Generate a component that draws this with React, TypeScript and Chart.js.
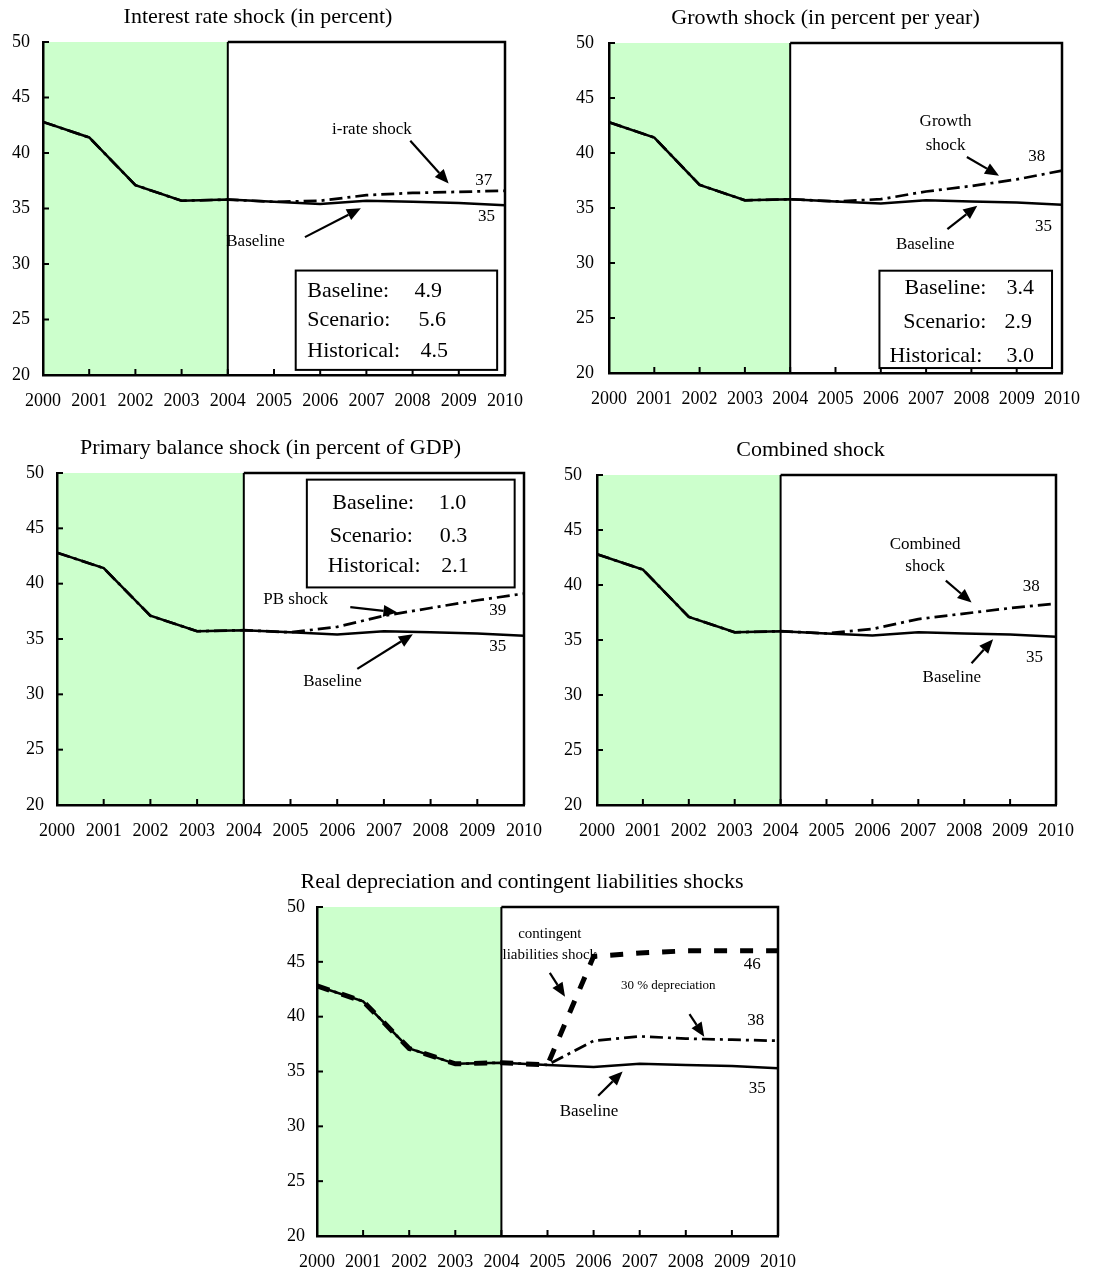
import { useEffect, useRef } from "react";

import { Chart, registerables } from "chart.js";

Chart.register(...registerables);

const FONT = "'Liberation Serif', 'Times New Roman', serif";
const SHADE = "#ccffcc";

const YEARS = ["2000", "2001", "2002", "2003", "2004", "2005", "2006", "2007", "2008", "2009", "2010"];
const HISTORY_END = "2004";
const Y_MIN = 20;
const Y_MAX = 50;
const Y_STEP = 5;

const BASELINE = [42.8, 41.4, 37.1, 35.7, 35.8, 35.6, 35.4, 35.7, 35.6, 35.5, 35.3];
const IRATE_SHOCK = [42.8, 41.4, 37.1, 35.7, 35.8, 35.6, 35.7, 36.2, 36.4, 36.5, 36.6];
const GROWTH_SHOCK = [42.8, 41.4, 37.1, 35.7, 35.8, 35.6, 35.8, 36.5, 37.0, 37.6, 38.4];
const PB_SHOCK = [42.8, 41.4, 37.1, 35.7, 35.8, 35.6, 36.1, 37.1, 37.8, 38.5, 39.1];
const COMBINED_SHOCK = [42.8, 41.4, 37.1, 35.7, 35.8, 35.6, 36.0, 36.9, 37.4, 37.9, 38.3];
const CONTINGENT_SHOCK = [42.8, 41.4, 37.1, 35.7, 35.8, 35.6, 45.5, 45.8, 46.0, 46.0, 46.0];
const DEPRECIATION_SHOCK = [42.8, 41.4, 37.1, 35.7, 35.8, 35.6, 37.8, 38.2, 38.0, 37.9, 37.8];

const STAT_LABELS = ["Baseline:", "Scenario:", "Historical:"];
const IRATE_STATS = ["4.9", "5.6", "4.5"];
const GROWTH_STATS = ["3.4", "2.9", "3.0"];
const PB_STATS = ["1.0", "0.3", "2.1"];

// [year index, value] positions for the hand-placed labels
type Pt = [number, number];

interface Note {
  text: string;
  at: Pt;
  size?: number;
}

interface Arrow {
  from: Pt;
  to: Pt;
}

interface StatsBox {
  values: string[];
  box: [Pt, Pt];
  rowsY: number[];
  labelX: number[];
  valueX: number[];
  align: CanvasTextAlign;
}

interface Series {
  data: number[];
  style: "solid" | "dashdot" | "heavy";
}

interface PanelSpec {
  title: string;
  series: Series[];
  notes: Note[];
  arrows: Arrow[];
  stats?: StatsBox;
  left: number;
  top: number;
  width: number;
  height: number;
  yAxisWidth: number;
  xAxisHeight: number;
  padRight: number;
  yPad: number;
}

const PANELS: PanelSpec[] = [
  {
    title: "Interest rate shock (in percent)",
    series: [
      { data: IRATE_SHOCK, style: "dashdot" },
      { data: BASELINE, style: "solid" }
    ],
    notes: [
      { text: "i-rate shock", at: [7.12, 42.07] },
      { text: "Baseline", at: [4.6, 32.0] },
      { text: "37", at: [9.54, 37.5] },
      { text: "35", at: [9.6, 34.32] }
    ],
    arrows: [
      { from: [7.95, 41.1], to: [8.78, 37.25] },
      { from: [5.67, 32.42], to: [6.88, 35.02] }
    ],
    stats: {
      values: IRATE_STATS,
      box: [[5.47, 29.41], [9.83, 20.46]],
      rowsY: [27.54, 24.98, 22.11],
      labelX: [5.72, 5.72, 5.72],
      valueX: [8.04, 8.13, 8.17],
      align: "left"
    },
    left: 3,
    top: 0,
    width: 535,
    height: 420,
    yAxisWidth: 40,
    xAxisHeight: 45,
    padRight: 25,
    yPad: 13
  },
  {
    title: "Growth shock (in percent per year)",
    series: [
      { data: GROWTH_SHOCK, style: "dashdot" },
      { data: BASELINE, style: "solid" }
    ],
    notes: [
      { text: "Growth", at: [7.43, 42.88] },
      { text: "shock", at: [7.43, 40.7] },
      { text: "38", at: [9.44, 39.7] },
      { text: "35", at: [9.59, 33.33] },
      { text: "Baseline", at: [6.98, 31.67] }
    ],
    arrows: [
      { from: [7.9, 39.64], to: [8.61, 37.94] },
      { from: [7.47, 33.09], to: [8.13, 35.21] }
    ],
    stats: {
      values: GROWTH_STATS,
      box: [[5.97, 29.3], [9.78, 20.45]],
      rowsY: [27.67, 24.64, 21.52],
      labelX: [8.33, 8.33, 8.24],
      valueX: [9.38, 9.34, 9.38],
      align: "right"
    },
    left: 575,
    top: 1,
    width: 520,
    height: 417,
    yAxisWidth: 34,
    xAxisHeight: 45,
    padRight: 19,
    yPad: 15
  },
  {
    title: "Primary balance shock (in percent of GDP)",
    series: [
      { data: PB_SHOCK, style: "dashdot" },
      { data: BASELINE, style: "solid" }
    ],
    notes: [
      { text: "PB shock", at: [5.11, 38.6] },
      { text: "39", at: [9.44, 37.55] },
      { text: "35", at: [9.44, 34.32] },
      { text: "Baseline", at: [5.9, 31.16] }
    ],
    arrows: [
      { from: [6.28, 37.88], to: [7.29, 37.4] },
      { from: [6.43, 32.3], to: [7.62, 35.44] }
    ],
    stats: {
      values: PB_STATS,
      box: [[5.35, 49.4], [9.8, 39.66]],
      rowsY: [47.23, 44.33, 41.56],
      labelX: [6.77, 6.73, 6.79],
      valueX: [8.47, 8.49, 8.52],
      align: "center"
    },
    left: 17,
    top: 431,
    width: 566,
    height: 419,
    yAxisWidth: 40,
    xAxisHeight: 45,
    padRight: 59,
    yPad: 13
  },
  {
    title: "Combined shock",
    series: [
      { data: COMBINED_SHOCK, style: "dashdot" },
      { data: BASELINE, style: "solid" }
    ],
    notes: [
      { text: "Combined", at: [7.15, 43.7] },
      { text: "shock", at: [7.15, 41.67] },
      { text: "38", at: [9.46, 39.9] },
      { text: "35", at: [9.53, 33.39] },
      { text: "Baseline", at: [7.73, 31.6] }
    ],
    arrows: [
      { from: [7.6, 40.4], to: [8.16, 38.4] },
      { from: [8.16, 32.88], to: [8.63, 35.06] }
    ],
    left: 557,
    top: 433,
    width: 532,
    height: 417,
    yAxisWidth: 40,
    xAxisHeight: 45,
    padRight: 25,
    yPad: 15
  },
  {
    title: "Real depreciation and contingent liabilities shocks",
    series: [
      { data: CONTINGENT_SHOCK, style: "heavy" },
      { data: DEPRECIATION_SHOCK, style: "dashdot" },
      { data: BASELINE, style: "solid" }
    ],
    notes: [
      { text: "contingent", at: [5.05, 47.5], size: 15 },
      { text: "liabilities shock", at: [5.05, 45.6], size: 15 },
      { text: "46", at: [9.44, 44.79] },
      { text: "30 % depreciation", at: [7.62, 42.88], size: 13 },
      { text: "38", at: [9.52, 39.64] },
      { text: "35", at: [9.55, 33.48] },
      { text: "Baseline", at: [5.9, 31.36] }
    ],
    arrows: [
      { from: [5.05, 44.0], to: [5.38, 41.82] },
      { from: [8.08, 40.24], to: [8.4, 38.18] },
      { from: [6.1, 32.79], to: [6.63, 35.0] }
    ],
    left: 257,
    top: 865,
    width: 554,
    height: 405,
    yAxisWidth: 60,
    xAxisHeight: 34,
    padRight: 24,
    yPad: 12
  }
];

const LINE_STYLES = {
  solid: { borderWidth: 2.5, borderDash: [] as number[] },
  dashdot: { borderWidth: 2.7, borderDash: [13, 5, 3, 5] },
  heavy: { borderWidth: 5, borderDash: [13, 13] }
};

function drawArrow(ctx: CanvasRenderingContext2D, x1: number, y1: number, x2: number, y2: number) {
  const ang = Math.atan2(y2 - y1, x2 - x1);
  const head = 14;
  const half = 6;
  const bx = x2 - head * Math.cos(ang);
  const by = y2 - head * Math.sin(ang);
  ctx.beginPath();
  ctx.moveTo(x1, y1);
  ctx.lineTo(bx, by);
  ctx.lineWidth = 2.2;
  ctx.stroke();
  ctx.beginPath();
  ctx.moveTo(x2, y2);
  ctx.lineTo(bx + half * Math.sin(ang), by - half * Math.cos(ang));
  ctx.lineTo(bx - half * Math.sin(ang), by + half * Math.cos(ang));
  ctx.closePath();
  ctx.fill();
}

function overlayPlugin(spec: PanelSpec) {
  return {
    id: "shockOverlay",
    beforeDraw(chart: Chart) {
      const { ctx, chartArea, scales } = chart;
      const xEnd = scales.x.getPixelForValue(YEARS.indexOf(HISTORY_END));
      ctx.save();
      ctx.fillStyle = SHADE;
      ctx.fillRect(chartArea.left, chartArea.top, xEnd - chartArea.left, chartArea.bottom - chartArea.top);
      ctx.restore();
    },
    afterDraw(chart: Chart) {
      const { ctx, chartArea, scales } = chart;
      const x = scales.x;
      const y = scales.y;
      const px = (p: Pt) => [x.getPixelForValue(p[0]), y.getPixelForValue(p[1])];
      const xEnd = x.getPixelForValue(YEARS.indexOf(HISTORY_END));

      ctx.save();
      ctx.strokeStyle = "#000";
      ctx.fillStyle = "#000";

      // box around the projection years
      ctx.lineWidth = 2.5;
      ctx.beginPath();
      ctx.moveTo(xEnd, chartArea.top);
      ctx.lineTo(chartArea.right, chartArea.top);
      ctx.lineTo(chartArea.right, chartArea.bottom);
      ctx.stroke();
      ctx.lineWidth = 2;
      ctx.beginPath();
      ctx.moveTo(xEnd, chartArea.top);
      ctx.lineTo(xEnd, chartArea.bottom);
      ctx.stroke();

      // inward tick marks
      ctx.lineWidth = 2;
      y.ticks.forEach((_, i) => {
        const ty = y.getPixelForTick(i);
        ctx.beginPath();
        ctx.moveTo(chartArea.left, ty);
        ctx.lineTo(chartArea.left + 6, ty);
        ctx.stroke();
      });
      x.ticks.forEach((_, i) => {
        const tx = x.getPixelForTick(i);
        ctx.beginPath();
        ctx.moveTo(tx, chartArea.bottom);
        ctx.lineTo(tx, chartArea.bottom - 6);
        ctx.stroke();
      });

      ctx.textAlign = "center";
      ctx.textBaseline = "middle";
      spec.notes.forEach((n) => {
        const [nx, ny] = px(n.at);
        ctx.font = `${n.size ?? 17}px ${FONT}`;
        ctx.fillText(n.text, nx, ny);
      });

      spec.arrows.forEach((a) => {
        const [x1, y1] = px(a.from);
        const [x2, y2] = px(a.to);
        drawArrow(ctx, x1, y1, x2, y2);
      });

      const s = spec.stats;
      if (s) {
        const [bx0, by0] = px(s.box[0]);
        const [bx1, by1] = px(s.box[1]);
        ctx.fillStyle = "#fff";
        ctx.fillRect(bx0, by0, bx1 - bx0, by1 - by0);
        ctx.fillStyle = "#000";
        ctx.lineWidth = 2;
        ctx.strokeRect(bx0, by0, bx1 - bx0, by1 - by0);
        ctx.font = `22px ${FONT}`;
        ctx.textAlign = s.align;
        STAT_LABELS.forEach((label, i) => {
          const ry = y.getPixelForValue(s.rowsY[i]);
          ctx.fillText(label, x.getPixelForValue(s.labelX[i]), ry);
          ctx.fillText(s.values[i], x.getPixelForValue(s.valueX[i]), ry);
        });
      }
      ctx.restore();
    }
  };
}

function ShockPanel({ spec }: { spec: PanelSpec }) {
  const canvasRef = useRef<HTMLCanvasElement>(null);

  useEffect(() => {
    if (!canvasRef.current) return;
    const chart = new Chart(canvasRef.current, {
      type: "line",
      data: {
        labels: YEARS,
        datasets: spec.series.map((s) => ({
          data: s.data,
          borderColor: "#000",
          backgroundColor: "#000",
          fill: false,
          pointRadius: 0,
          tension: 0,
          ...LINE_STYLES[s.style]
        }))
      },
      options: {
        responsive: false,
        animation: false,
        layout: { padding: { left: 0, right: spec.padRight, top: 0, bottom: 0 } },
        plugins: {
          legend: { display: false },
          tooltip: { enabled: false },
          title: {
            display: true,
            text: spec.title,
            color: "#000",
            font: { family: FONT, size: 22, weight: "normal" },
            padding: { top: 4, bottom: 11.6 }
          }
        },
        scales: {
          x: {
            type: "category",
            offset: false,
            grid: { display: false, drawTicks: false },
            border: { display: true, color: "#000", width: 2.5 },
            ticks: {
              color: "#000",
              font: { family: FONT, size: 18 },
              padding: 15,
              maxRotation: 0,
              autoSkip: false
            },
            afterFit: (scale) => {
              scale.height = spec.xAxisHeight;
            }
          },
          y: {
            min: Y_MIN,
            max: Y_MAX,
            grid: { display: false, drawTicks: false },
            border: { display: true, color: "#000", width: 2.5 },
            ticks: {
              stepSize: Y_STEP,
              color: "#000",
              font: { family: FONT, size: 18 },
              padding: spec.yPad
            },
            afterFit: (scale) => {
              scale.width = spec.yAxisWidth;
            }
          }
        }
      },
      plugins: [overlayPlugin(spec)]
    });

    return () => {
      chart.destroy();
    };
  }, [spec]);

  return (
    <canvas
      ref={canvasRef}
      width={spec.width}
      height={spec.height}
      style={{ position: "absolute", left: spec.left, top: spec.top }}
    />
  );
}

export default function App() {
  return (
    <div
      style={{
        position: "absolute",
        left: 0,
        top: 0,
        width: 1099,
        height: 1272,
        overflow: "hidden",
        background: "#fff"
      }}
    >
      {PANELS.map((p) => (
        <ShockPanel key={p.title} spec={p} />
      ))}
    </div>
  );
}
